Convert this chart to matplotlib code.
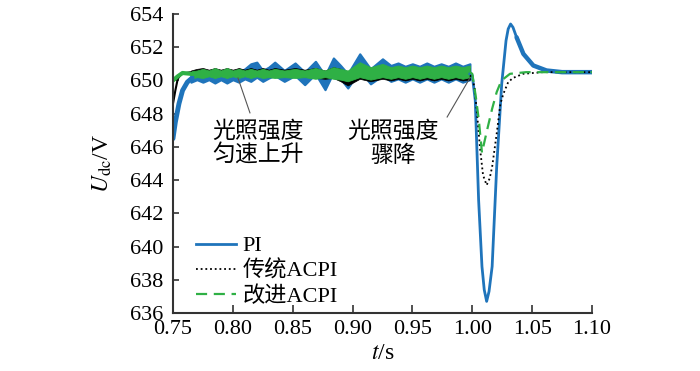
import matplotlib
matplotlib.use("Agg")
import matplotlib.pyplot as plt

plt.rcParams['font.family'] = ['Liberation Serif', 'Noto Sans CJK SC']
plt.rcParams['mathtext.fontset'] = 'stix'

# ripple band region (upper / lower envelopes)
band_t = [0.765, 0.770, 0.775, 0.780, 0.785, 0.790, 0.795, 0.800, 0.805, 0.810,
          0.815, 0.820, 0.825, 0.830, 0.835, 0.843, 0.852, 0.860, 0.869, 0.877,
          0.884, 0.890, 0.896, 0.906, 0.915, 0.925, 0.932, 0.938, 0.944, 0.950,
          0.956, 0.962, 0.968, 0.974, 0.980, 0.986, 0.992, 0.998]
pi_hi = [650.4, 650.5, 650.4, 650.55, 650.45, 650.6, 650.45, 650.6, 650.5, 650.7,
         651.0, 651.1, 650.6, 650.8, 651.1, 650.6, 651.05, 650.5, 651.15, 650.3,
         651.35, 650.9, 650.4, 651.6, 650.7, 651.3, 650.9, 651.05, 650.85, 651.0,
         650.85, 651.05, 650.85, 651.0, 650.85, 651.05, 650.85, 651.0]
pi_lo = [649.9, 650.05, 649.9, 650.05, 649.85, 650.05, 649.85, 650.05, 649.9, 650.1,
         649.95, 650.2, 649.95, 650.15, 650.3, 649.95, 650.3, 649.75, 650.4, 649.45,
         650.5, 650.1, 649.55, 650.6, 649.8, 650.3, 649.95, 650.1, 649.9, 650.1,
         649.9, 650.1, 649.9, 650.1, 649.9, 650.1, 649.9, 650.05]
acpi_hi = [650.6, 650.7, 650.75, 650.65, 650.75, 650.65, 650.75, 650.65, 650.75, 650.65,
           650.75, 650.65, 650.75, 650.65, 650.75, 650.65, 650.75, 650.65, 650.75, 650.6,
           650.8, 650.7, 650.5, 650.95, 650.7, 650.9, 650.7, 650.75, 650.7, 650.75,
           650.7, 650.75, 650.7, 650.75, 650.7, 650.75, 650.7, 650.75]
acpi_lo = [650.3, 650.35, 650.3, 650.35, 650.3, 650.35, 650.3, 650.35, 650.3, 650.35,
           650.3, 650.35, 650.3, 650.3, 650.25, 650.3, 650.2, 650.25, 650.15, 650.1,
           650.15, 649.95, 649.7, 650.1, 649.95, 650.1, 650.0, 650.1, 650.0, 650.1,
           650.0, 650.1, 650.0, 650.1, 650.0, 650.1, 650.0, 650.05]
imp_hi = [650.55, 650.6, 650.7, 650.6, 650.75, 650.6, 650.75, 650.6, 650.7, 650.6,
          650.7, 650.6, 650.7, 650.6, 650.7, 650.6, 650.7, 650.6, 650.75, 650.6,
          650.8, 650.7, 650.6, 651.1, 650.8, 651.0, 650.8, 650.9, 650.8, 650.9,
          650.8, 650.9, 650.8, 650.9, 650.8, 650.9, 650.8, 650.9]
imp_lo = [650.1, 650.2, 650.15, 650.25, 650.15, 650.25, 650.15, 650.25, 650.15, 650.25,
          650.15, 650.25, 650.15, 650.2, 650.15, 650.2, 650.15, 650.2, 650.1, 650.2,
          650.1, 650.05, 649.95, 650.2, 650.05, 650.2, 650.1, 650.2, 650.1, 650.2,
          650.1, 650.2, 650.1, 650.2, 650.1, 650.2, 650.1, 650.2]

# start-up ramps
pi_t0 = [0.750, 0.752, 0.755, 0.758, 0.762, 0.766]
pi_v0 = [646.5, 647.5, 648.6, 649.4, 649.9, 650.15]
acpi_t0 = [0.750, 0.752, 0.754, 0.757, 0.765]
acpi_v0 = [648.6, 649.4, 650.1, 650.4, 650.5]
imp_t0 = [0.750, 0.754, 0.758, 0.765]
imp_v0 = [650.0, 650.25, 650.45, 650.4]

# step at t = 1.0 s
pi_t1 = [0.998, 1.000, 1.0025, 1.0053, 1.0081, 1.010, 1.012, 1.014, 1.0166, 1.0204,
         1.0246, 1.0282, 1.030, 1.032, 1.034, 1.037, 1.0427, 1.051, 1.062, 1.075, 1.100]
pi_v1 = [650.4, 650.3, 648.8, 642.8, 638.8, 637.4, 636.7, 637.3, 638.8, 644.8,
         649.8, 652.4, 653.1, 653.4, 653.2, 652.6, 651.6, 650.9, 650.6, 650.5, 650.5]
acpi_t1 = [0.998, 1.000, 1.002, 1.004, 1.0065, 1.009, 1.012, 1.0145, 1.0166, 1.0204,
           1.0235, 1.026, 1.030, 1.034, 1.0425, 1.059, 1.100]
acpi_v1 = [650.3, 650.2, 649.5, 648.0, 645.9, 644.3, 643.7, 644.1, 644.8, 646.8,
           648.6, 649.2, 649.9, 650.15, 650.4, 650.5, 650.5]
imp_t1 = [0.998, 1.000, 1.003, 1.0055, 1.0081, 1.012, 1.0166, 1.0204, 1.0244, 1.0315,
          1.045, 1.070, 1.100]
imp_v1 = [650.5, 650.4, 649.0, 647.6, 645.65, 646.9, 648.3, 649.3, 650.0, 650.4,
          650.5, 650.5, 650.5]

c_pi = '#1f74bb'
c_imp = '#2fb045'

fig = plt.figure(figsize=(7, 3.71), dpi=100)
ax = fig.add_axes([0.2471, 0.1563, 0.5986, 0.8059])

# PI
ax.fill_between(band_t, pi_lo, pi_hi, color=c_pi, lw=1.6, edgecolor=c_pi,
                joinstyle='round')
ax.plot(pi_t0, pi_v0, color=c_pi, lw=3.5, solid_capstyle='round')
l_pi, = ax.plot(pi_t1, pi_v1, color=c_pi, lw=2, solid_joinstyle='round', label='PI')
ax.plot(pi_t1[-6:], pi_v1[-6:], color=c_pi, lw=3.2, solid_capstyle='round')

# traditional ACPI
ax.fill_between(band_t, acpi_lo, acpi_hi, color='black', lw=0.5, edgecolor='black')
ax.plot(acpi_t0, acpi_v0, color='black', lw=1.5)
l_acpi, = ax.plot(acpi_t1, acpi_v1, color='black', lw=1.3, ls=(0, (1, 1.6)),
                  label='传统ACPI')

# improved ACPI
ax.fill_between(band_t, imp_lo, imp_hi, color=c_imp, lw=0.6, edgecolor=c_imp)
ax.plot(imp_t0, imp_v0, color=c_imp, lw=3)
l_imp, = ax.plot(imp_t1, imp_v1, color=c_imp, lw=1.6, ls=(0, (5, 3)),
                 label='改进ACPI')

# annotations
cjk = ['Noto Sans CJK SC', 'DejaVu Sans']
ax.plot([0.8043, 0.8143], [650.15, 648.05], color='#555555', lw=0.8)
ax.text(0.821, 646.2, '光照强度\n匀速上升', family=cjk, fontsize=16.5,
        ha='center', va='center', linespacing=1.05)
ax.plot([0.998, 0.979], [650.15, 647.8], color='#555555', lw=0.8)
ax.text(0.9338, 646.2, '光照强度\n骤降', family=cjk, fontsize=16.5,
        ha='center', va='center', linespacing=1.05)

ax.set_xlim(0.75, 1.10)
ax.set_ylim(636, 654)
ax.set_xticks([0.75, 0.80, 0.85, 0.90, 0.95, 1.00, 1.05, 1.10])
ax.set_xticklabels(['0.75', '0.80', '0.85', '0.90', '0.95', '1.00', '1.05', '1.10'])
ax.set_yticks(range(636, 655, 2))

for s in ['top', 'right']:
    ax.spines[s].set_visible(False)
for s in ['left', 'bottom']:
    ax.spines[s].set_color('#333333')
    ax.spines[s].set_linewidth(1.5)

ax.tick_params(axis='both', direction='in', colors='#333333', labelcolor='black',
               labelsize=16, width=1.2)
ax.tick_params(axis='x', length=6, pad=5)
ax.tick_params(axis='y', length=4, pad=7)

ax.set_xlabel('$t$/s', fontsize=17)
ax.xaxis.set_label_coords(0.5, -0.10)
ax.set_ylabel(r'$U_{\mathrm{dc}}$/V', fontsize=17)
ax.yaxis.set_label_coords(-0.14, 0.5)

ax.legend(handles=[l_pi, l_acpi, l_imp], loc='lower left',
          bbox_to_anchor=(0.055, 0.02), frameon=False, fontsize=16,
          handlelength=1.8, handletextpad=0.3, labelspacing=0.2,
          borderaxespad=0, borderpad=0)

fig.savefig('out.png', dpi=100, facecolor='white')
